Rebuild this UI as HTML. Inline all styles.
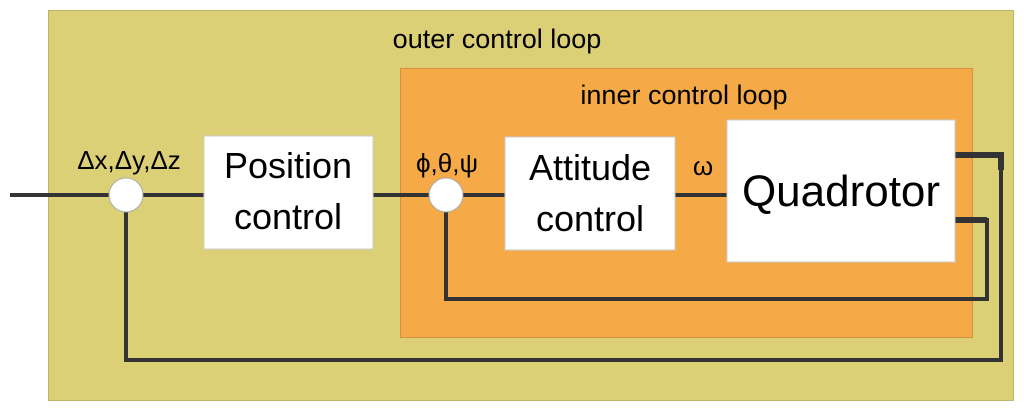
<!DOCTYPE html>
<html><head><style>body{margin:0;background:#fff}</style></head><body>
<svg width="1024" height="411" xmlns="http://www.w3.org/2000/svg" font-family="Liberation Sans, sans-serif">
<rect x="48.5" y="10.5" width="965" height="390" fill="#dcd077" stroke="#bdb56a"/>
<rect x="400.5" y="68.5" width="572" height="269" fill="#f5aa47" stroke="#d39240"/>
<text x="497" y="48" font-size="27" text-anchor="middle">outer control loop</text>
<text x="684" y="104" font-size="27" text-anchor="middle">inner control loop</text>
<g stroke="#333" fill="none">
<path d="M10 195H446M446 195H727" stroke-width="4"/>
<path d="M955 155H1001V360H126V195" stroke-width="4"/>
<path d="M955 220H987V299H446V195" stroke-width="4"/>
<path d="M955 155H1001V170M955 220H987" stroke-width="6"/>
</g>
<circle cx="126" cy="195" r="17" fill="#fff" stroke="#aaa"/>
<circle cx="446" cy="195" r="17" fill="#fff" stroke="#aaa"/>
<rect x="204" y="136" width="169" height="113" fill="#fff" stroke="#ccc"/>
<rect x="505" y="137" width="170" height="113" fill="#fff" stroke="#ccc"/>
<rect x="727" y="120" width="228" height="142" fill="#fff" stroke="#ccc"/>
<text x="288" y="178" font-size="36" text-anchor="middle">Position</text>
<text x="288" y="229" font-size="36" text-anchor="middle">control</text>
<text x="590" y="180" font-size="36" text-anchor="middle">Attitude</text>
<text x="590" y="231" font-size="36" text-anchor="middle">control</text>
<text x="841" y="206" font-size="44" text-anchor="middle">Quadrotor</text>
<text x="129" y="169" font-size="26" text-anchor="middle">Δx,Δy,Δz</text>
<text x="447" y="172" font-size="26" text-anchor="middle">ϕ,θ,ψ</text>
<text x="703" y="175" font-size="26" text-anchor="middle">ω</text>
</svg>
</body></html>
